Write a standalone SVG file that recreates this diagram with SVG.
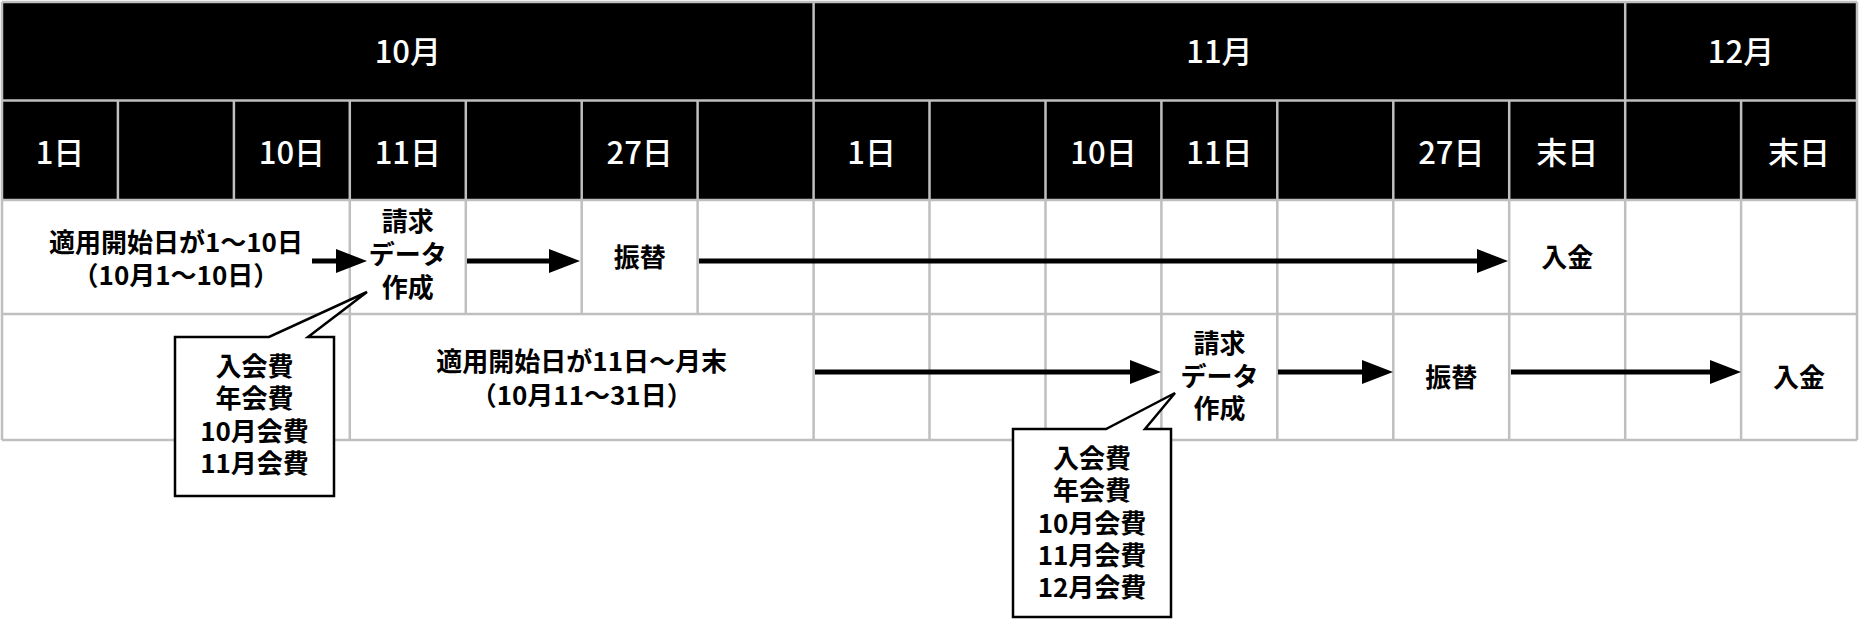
<svg xmlns="http://www.w3.org/2000/svg" width="1862" height="622" viewBox="0 0 1862 622">
<style>
.grid{stroke:#bfbfbf;stroke-width:2.5;fill:none}
.hd{font-family:"Noto Sans CJK JP","Noto Sans",sans-serif;font-size:31px;font-weight:500;fill:#fff;text-anchor:middle}
.bd{font-family:"Noto Sans CJK JP","Noto Sans",sans-serif;font-size:26px;font-weight:700;fill:#000;text-anchor:middle}
.arr{stroke:#000;stroke-width:5;fill:none;marker-end:url(#ah)}
.call{fill:#fff;stroke:#000;stroke-width:2.5;stroke-linejoin:miter}
</style>
<defs>
<marker id="ah" markerUnits="userSpaceOnUse" markerWidth="31" markerHeight="24" viewBox="0 0 31 24" refX="21" refY="12" orient="auto">
<path d="M0,0 L31,12 L0,24 Z" fill="#000"/>
</marker>
</defs>
<rect x="0" y="0" width="1862" height="622" fill="#fff"/>
<g id="header">
<rect x="2" y="2" width="1855" height="198" fill="#000"/>
</g>
<g id="grid">
<path class="grid" d="M2,2 H1857 M2,100.5 H1857 M2,200 H1857 M2,314 H1857 M2,440 H1857"/>
<path class="grid" d="M2,2 V440 M1857,2 V440 M813.6,2 V440 M1625.2,2 V440"/>
<path class="grid" d="M117.9,100.5 V200 M233.9,100.5 V200 M349.8,100.5 V440 M465.8,100.5 V314 M581.7,100.5 V314 M697.6,100.5 V314 M929.5,100.5 V440 M1045.5,100.5 V440 M1161.4,100.5 V440 M1277.3,100.5 V440 M1393.3,100.5 V440 M1509.2,100.5 V440 M1741.1,100.5 V440"/>
</g>
<g id="months">
<text class="hd" x="407.8" y="63">10月</text>
<text class="hd" x="1219.4" y="63">11月</text>
<text class="hd" x="1741" y="63">12月</text>
</g>
<g id="days">
<text class="hd" x="60" y="164">1日</text>
<text class="hd" x="291.9" y="164">10日</text>
<text class="hd" x="407.8" y="164">11日</text>
<text class="hd" x="639.7" y="164">27日</text>
<text class="hd" x="871.6" y="164">1日</text>
<text class="hd" x="1103.5" y="164">10日</text>
<text class="hd" x="1219.4" y="164">11日</text>
<text class="hd" x="1451.3" y="164">27日</text>
<text class="hd" x="1567.3" y="164">末日</text>
<text class="hd" x="1799.1" y="164">末日</text>
</g>
<g id="connectors">
<path class="arr" d="M312,261 H357"/>
<path class="arr" d="M467,261 H570"/>
<path class="arr" d="M699,261 H1498"/>
<path class="arr" d="M815,372 H1151"/>
<path class="arr" d="M1278,372 H1383"/>
<path class="arr" d="M1511,372 H1731"/>
</g>
<g id="range1">
<text class="bd" x="175.9" y="252">適用開始日が1〜10日</text>
<text class="bd" x="175.9" y="285">（10月1〜10日）</text>
</g>
<g id="bill1">
<text class="bd" x="407.8" y="231">請求</text>
<text class="bd" x="407.8" y="264">データ</text>
<text class="bd" x="407.8" y="297">作成</text>
</g>
<g id="transfer1"><text class="bd" x="639.7" y="267">振替</text></g>
<g id="deposit1"><text class="bd" x="1567.3" y="267">入金</text></g>
<g id="range2">
<text class="bd" x="581.7" y="371">適用開始日が11日〜月末</text>
<text class="bd" x="581.7" y="405">（10月11〜31日）</text>
</g>
<g id="bill2">
<text class="bd" x="1219.4" y="353">請求</text>
<text class="bd" x="1219.4" y="386">データ</text>
<text class="bd" x="1219.4" y="418">作成</text>
</g>
<g id="transfer2"><text class="bd" x="1451.3" y="387">振替</text></g>
<g id="deposit2"><text class="bd" x="1799.1" y="387">入金</text></g>
<g id="callout1">
<path class="call" d="M175,337 L269,337 L367,292 L308,337 L334,337 L334,496 L175,496 Z"/>
<text class="bd" x="254.5" y="376">入会費</text>
<text class="bd" x="254.5" y="408">年会費</text>
<text class="bd" x="254.5" y="441">10月会費</text>
<text class="bd" x="254.5" y="473">11月会費</text>
</g>
<g id="callout2">
<path class="call" d="M1013,429 L1106,429 L1175,393 L1145,429 L1171,429 L1171,617 L1013,617 Z"/>
<text class="bd" x="1092" y="468">入会費</text>
<text class="bd" x="1092" y="500">年会費</text>
<text class="bd" x="1092" y="533">10月会費</text>
<text class="bd" x="1092" y="565">11月会費</text>
<text class="bd" x="1092" y="597">12月会費</text>
</g>
</svg>
